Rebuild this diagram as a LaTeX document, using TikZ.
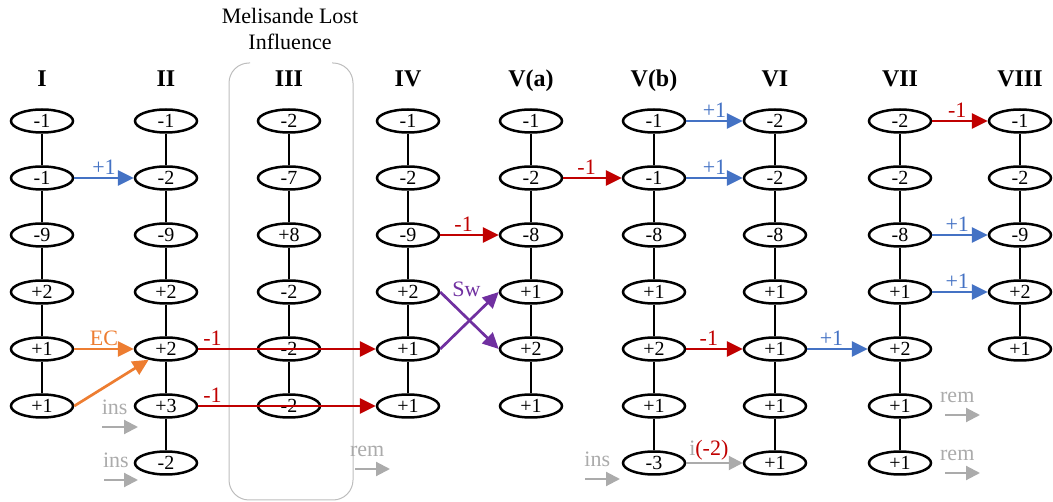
\documentclass[tikz,border=0pt]{standalone}
\usepackage{fontspec}
\setmainfont{Liberation Serif}
\usetikzlibrary{shapes.geometric,arrows.meta}
\definecolor{ecorange}{HTML}{ED7D31}
\definecolor{plusblue}{HTML}{4472C4}
\definecolor{minusred}{HTML}{C00000}
\definecolor{swpurple}{HTML}{7030A0}
\definecolor{opgray}{HTML}{ABABAB}
\definecolor{boxgray}{HTML}{BDBDBD}

\begin{document}
\begin{tikzpicture}[x=1pt,y=-1pt,
    val/.style  = {draw,ellipse,line width=2.5pt,minimum width=62pt,minimum height=23pt,
                   inner sep=0pt,font=\fontsize{20}{22}\selectfont},
    hdr/.style  = {font=\fontsize{24}{26}\selectfont\bfseries,anchor=base},
    link/.style = {line width=1.4pt},
    move/.style = {-{Triangle[length=16pt,width=15pt]},line width=2.7pt},
    grmove/.style = {-{Triangle[length=14pt,width=14pt]},line width=2.1pt,opgray},
    lbl/.style  = {font=\fontsize{22}{24}\selectfont,inner sep=2pt},
    glbl/.style = {lbl,text=opgray,inner sep=0pt,above=11pt,pos=0.35},
  ]
  \useasboundingbox (0,0) rectangle (1053,502);

  % -- box round the third stage -------------------------------------------
  \draw[boxgray,line width=1pt,rounded corners=20pt]
    (250,63) -- (229,63) -- (229,500) -- (353,500) -- (353,63) -- (332,63);
  \node[lbl,align=center,font=\fontsize{22}{26}\selectfont] (title) at (290,29)
       {Melisande Lost\\Influence};

  % -- stages ----------------------------------------------------------------
  \foreach \c/\x/\head/\vals in {
      1/42/I/{-1,-1,-9,+2,+1,+1},
      2/166/II/{-1,-2,-9,+2,+2,+3,-2},
      3/289/III/{-2,-7,+8,-2,-2,-2},
      4/408/IV/{-1,-2,-9,+2,+1,+1},
      5/531/V(a)/{-1,-2,-8,+1,+2,+1},
      6/654/V(b)/{-1,-1,-8,+1,+2,+1,-3},
      7/775/VI/{-2,-2,-8,+1,+1,+1,+1},
      8/900/VII/{-2,-2,-8,+1,+2,+1,+1},
      9/1020/VIII/{-1,-2,-9,+2,+1}} {
    \node[hdr] (h\c) at (\x,87) {\head};
    \foreach \v [count=\r] in \vals {
      \node[val] (n\c-\r) at (\x,{121+57*(\r-1)}) {\v};
      \ifnum\r>1
        \pgfmathtruncatemacro{\p}{\r-1}
        \draw[link] (n\c-\p) -- (n\c-\r);
      \fi
    }
  }

  % -- moves between stages --------------------------------------------------
  \draw[move,plusblue] (n1-2) -- node[lbl,above,text=plusblue] {+1} (n2-2);
  \draw[move,ecorange] (n1-5) -- node[lbl,above,text=ecorange] {EC} (n2-5);
  \draw[move,ecorange] (n1-6.east) -- (n2-5);
  \draw[move,minusred] (n2-5) -- node[lbl,above,pos=0.08,text=minusred] {-1} (n4-5);
  \draw[move,minusred] (n2-6) -- node[lbl,above,pos=0.08,text=minusred] {-1} (n4-6);
  \draw[move,minusred] (n4-3) -- node[lbl,above,pos=0.4,text=minusred] {-1} (n5-3);
  \draw[move,swpurple] (n4-4.east) -- node[lbl,pos=0.15,anchor=south west,text=swpurple] {Sw} (n5-5.west);
  \draw[move,swpurple] (n4-5.east) -- (n5-4.west);
  \draw[move,minusred] (n5-2) -- node[lbl,above,pos=0.4,text=minusred] {-1} (n6-2);
  \draw[move,plusblue] (n6-1) -- node[lbl,above,text=plusblue] {+1} (n7-1);
  \draw[move,plusblue] (n6-2) -- node[lbl,above,text=plusblue] {+1} (n7-2);
  \draw[move,minusred] (n6-5) -- node[lbl,above,pos=0.4,text=minusred] {-1} (n7-5);
  \draw[move,plusblue] (n7-5) -- node[lbl,above,pos=0.4,text=plusblue] {+1} (n8-5);
  \draw[move,minusred] (n8-1) -- node[lbl,above,pos=0.45,text=minusred] {-1} (n9-1);
  \draw[move,plusblue] (n8-3) -- node[lbl,above,pos=0.45,text=plusblue] {+1} (n9-3);
  \draw[move,plusblue] (n8-4) -- node[lbl,above,pos=0.45,text=plusblue] {+1} (n9-4);
  \draw[grmove] (n6-7) -- node[lbl,above,pos=0.4]
       {\textcolor{opgray}{i}\textcolor{minusred}{(-2)}} (n7-7);

  % -- insertions and removals -----------------------------------------------
  \foreach \k/\a/\b/\y/\t in {1/102/138/427/ins, 2/104/138/480/ins, 3/355/390/469/rem,
                              4/585/620/479/ins, 5/945/980/415/rem, 6/945/980/473/rem} {
    \coordinate (op\k a) at (\a,\y);
    \coordinate (op\k b) at (\b,\y);
    \draw[grmove] (op\k a) -- node[glbl] {\t} (op\k b);
  }

\end{tikzpicture}
\end{document}
